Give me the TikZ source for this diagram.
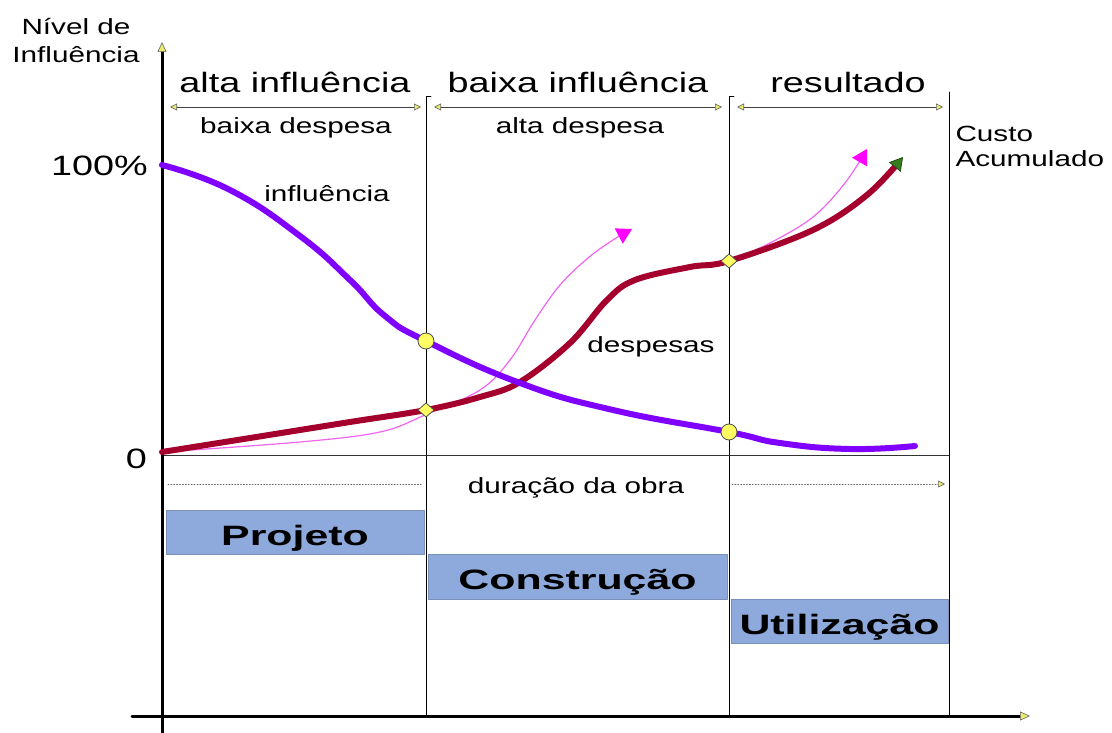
\documentclass[tikz,border=0pt]{standalone}
\usepackage{fontspec}
\setmainfont[FakeStretch=1.35]{Liberation Sans}
\newfontfamily\negrito[FakeStretch=1.53]{Liberation Sans}
\usetikzlibrary{arrows.meta}
\definecolor{roxo}{RGB}{128,0,255}
\definecolor{vinho}{RGB}{165,0,45}
\definecolor{rosa}{RGB}{240,100,240}
\definecolor{magen}{RGB}{255,0,255}
\definecolor{verde}{RGB}{55,125,30}
\definecolor{ponta}{RGB}{235,235,110}
\definecolor{amarelo}{RGB}{255,255,100}
\definecolor{azul}{RGB}{142,169,219}
\newcommand\titulo{\fontsize{28}{28}\selectfont}
\newcommand\rotulo{\fontsize{22}{22}\selectfont}
\newcommand\miudo{\fontsize{22}{28}\selectfont}
\tikzset{
  eixo/.style={line width=3pt, -{Triangle[color=black!60, fill=ponta, length=10pt, width=9pt, line width=0.6pt]}},
  cota/.style={draw=black!75, line width=0.8pt, <->},
  divisa/.style={draw=black, line width=0.9pt},
  caixa/.style={fill=azul, draw=azul!85!black, line width=0.5pt, font=\negrito\fontsize{28}{28}\selectfont\bfseries,
    inner sep=0pt, text height=26pt, text depth=0pt},
  marca/.style={fill=amarelo, draw=black!70, line width=0.8pt},
}
\begin{document}
\begin{tikzpicture}[x=1pt, y=-1pt, line join=round, line cap=round,
  >={Triangle[color=black!60, fill=ponta, length=7pt, width=7pt, line width=0.6pt]}]
\useasboundingbox (0,0) rectangle (1112,733);
\path (162,733) coordinate (Yb) (162,42) coordinate (Yt)
  (132,716) coordinate (Xl) (1030,716) coordinate (Xr)
  (162,455) coordinate (Z0) (949,455) coordinate (Z1)
  (426,96) coordinate (A) (426,716) coordinate (Ab)
  (729,96) coordinate (B) (729,716) coordinate (Bb)
  (949,92) coordinate (C) (949,716) coordinate (Cb);
% grade
\draw[divisa] (431,96)--(A)--(Ab) (734,96)--(B)--(Bb) (C)--(Cb);
\draw[black!80, line width=0.8pt] (Z0)--(Z1);
% eixos
\draw[eixo] (Yb)--(Yt);
\draw[eixo] (Xl)--(Xr);
% fases
\foreach \n/\l/\r in {1/170/421, 2/434/722, 3/737/943}{
  \path (\l,107) coordinate (c\n l) (\r,107) coordinate (c\n r);
  \draw[cota] (c\n l)--(c\n r);}
\foreach \n/\x/\t in {alta/295/alta influência, baixa/578/baixa influência, res/848/resultado}
  \node[font=\titulo, anchor=base, inner sep=0pt] (h\n) at (\x,93) {\t};
\node[font=\rotulo, anchor=base, inner sep=0pt] (tbd) at (296,134) {baixa despesa};
\node[font=\rotulo, anchor=base, inner sep=0pt] (tad) at (580,134) {alta despesa};
\node[font=\miudo, align=center] (tniv) at (76,41) {Nível de\\Influência};
\node[font=\fontsize{22}{25}\selectfont, align=left, anchor=west] (tcusto) at (952,146) {Custo\\Acumulado};
\node[font=\titulo, anchor=base east, inner sep=0pt] (t100) at (148,176) {100\%};
\node[font=\titulo, anchor=base east, inner sep=0pt] (t0) at (147,468) {0};
% curvas
\path (162,165) coordinate (i0) (426,341) coordinate (i1) (729,432) coordinate (i2) (915,446) coordinate (i3);
\path (162,452) coordinate (d0) (426,410) coordinate (d1) (729,261) coordinate (d2) (903,157) coordinate (d3);
\path (632,229) coordinate (m1) (867,149) coordinate (m2);
\draw[rosa, line width=1.2pt, -{Triangle[length=15pt, width=17pt, color=magen]}]
  plot[smooth, tension=0.6] coordinates {(d0) (300,442) (380,432) (425,415) (480,390) (510,360) (535,320) (560,285) (588,258) (613,240) (m1)};
\draw[rosa, line width=1.2pt, -{Triangle[length=15pt, width=17pt, color=magen]}]
  plot[smooth, tension=0.6] coordinates {(d2) (770,243) (813,217) (845,183) (m2)};
\draw[vinho, line width=6pt, -{Triangle[length=13pt, width=15pt, color=verde!60!black, fill=verde, line width=0.8pt]}]
  plot[smooth, tension=0.6] coordinates {(d0) (250,438) (350,422) (d1) (480,397) (520,382) (570,343) (607,300) (635,280) (690,267) (d2) (813,230) (867,195) (d3)};
\draw[roxo, line width=6pt]
  plot[smooth, tension=0.8] coordinates {(i0) (230,190) (300,236) (350,280) (385,316) (i1) (520,383) (613,410) (i2) (780,443) (850,449) (i3)};
\foreach \p in {i1,i2} \filldraw[marca] (\p) circle (8pt);
\foreach \p in {d1,d2} \filldraw[marca] (\p) ++(-8,0) -- ++(8,-7) -- ++(8,7) -- ++(-8,7) -- cycle;
\node[font=\rotulo, anchor=base, inner sep=0pt] (tinfl) at (327,202) {influência};
\node[font=\rotulo, anchor=base, inner sep=0pt] (tdesp) at (651,352) {despesas};
% duracao
\path (168,484) coordinate (q1) (422,484) coordinate (q2) (732,484) coordinate (q3) (945,484) coordinate (q4);
\draw[dotted, black!60, line width=0.9pt] (q1)--(q2);
\draw[dotted, black!60, line width=0.9pt, ->] (q3)--(q4);
\node[font=\rotulo, anchor=base, inner sep=0pt] (tdur) at (576,493) {duração da obra};
% etapas
\node[caixa, minimum width=258, minimum height=44] (proj) at (295,532) {Projeto};
\node[caixa, minimum width=299, minimum height=45] (const) at (577.5,576.5) {Construção};
\node[caixa, minimum width=217, minimum height=44] (util) at (839.5,621) {Utilização};
\end{tikzpicture}
\end{document}
